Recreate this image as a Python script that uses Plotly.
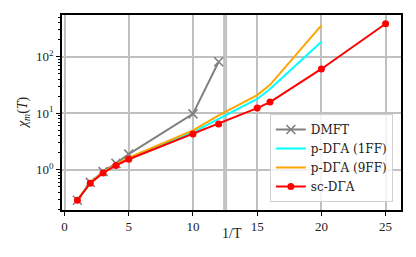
import plotly.graph_objects as go

# data
inv_T = [1, 2, 3, 4, 5, 10, 12, 15, 16, 20]
inv_T_sc = [1, 2, 3, 4, 5, 10, 12, 15, 16, 20, 25]
inv_T_dmft = [1, 2, 3, 4, 5, 10, 12]

chi_dmft = [0.29, 0.60, 0.93, 1.30, 1.90, 9.8, 82]
chi_1ff = [0.29, 0.59, 0.89, 1.22, 1.60, 4.6, 8.0, 18, 27, 185]
chi_9ff = [0.29, 0.60, 0.90, 1.25, 1.65, 5.0, 9.2, 21, 32, 360]
chi_sc = [0.29, 0.58, 0.88, 1.20, 1.54, 4.3, 6.5, 12.4, 15.8, 61, 385]

cutoff = 12.5
x_ticks = [0, 5, 10, 15, 20, 25]
y_ticks = [1, 10, 100]
y_ticktext = ["10<sup>0</sup>", "10<sup>1</sup>", "10<sup>2</sup>"]

FONT = "Liberation Serif"
LEG_FONT = "DejaVu Serif"

fig = go.Figure()
fig.add_vline(x=cutoff, line=dict(color="rgba(170,170,170,0.7)", width=4), layer="below")

fig.add_trace(go.Scatter(x=inv_T_dmft, y=chi_dmft, name="DMFT", mode="lines+markers",
                         line=dict(color="#808080", width=2),
                         marker=dict(symbol="x-thin", size=9, line=dict(color="#808080", width=1.6))))
fig.add_trace(go.Scatter(x=inv_T, y=chi_1ff, name="p-DΓA (1FF)", mode="lines",
                         line=dict(color="#00ffff", width=2)))
fig.add_trace(go.Scatter(x=inv_T, y=chi_9ff, name="p-DΓA (9FF)", mode="lines",
                         line=dict(color="#ffa500", width=2)))
fig.add_trace(go.Scatter(x=inv_T_sc, y=chi_sc, name="sc-DΓA", mode="lines+markers",
                         line=dict(color="#ff0000", width=2),
                         marker=dict(symbol="circle", size=7, color="#ff0000")))

fig.update_layout(
    width=408, height=249,
    margin=dict(l=54, r=15, t=7, b=47, autoexpand=False),
    paper_bgcolor="white", plot_bgcolor="white",
    font=dict(family=FONT, size=13, color="#222"),
    showlegend=True,
    legend=dict(x=0.976, y=0.041, xanchor="right", yanchor="bottom",
                bgcolor="rgba(255,255,255,0.8)", bordercolor="#d0d0d0", borderwidth=1,
                font=dict(family=LEG_FONT, size=12), tracegroupgap=0, itemwidth=30),
    xaxis=dict(range=[-0.2, 26.2], tickvals=x_ticks, ticks="outside", ticklen=4,
               tickcolor="black", showgrid=True, gridcolor="#c0c0c0", gridwidth=1.5,
               showline=True, linecolor="black", linewidth=1.5, mirror=True,
               zeroline=False, automargin=False, tickfont=dict(family=FONT, size=13)),
    yaxis=dict(type="log", range=[-0.71, 2.74], tickvals=y_ticks, ticktext=y_ticktext,
               ticks="outside", ticklen=4, tickcolor="black",
               minor=dict(ticks="outside", ticklen=2, dtick="D1", tickcolor="black", showgrid=False),
               showgrid=True, gridcolor="#c0c0c0", gridwidth=1.5,
               showline=True, linecolor="black", linewidth=1.5, mirror=True,
               zeroline=False, automargin=False, tickfont=dict(family=FONT, size=13)),
)

fig.add_annotation(text="1/T", xref="paper", yref="paper", x=0.5, y=-0.123,
                   xanchor="center", yanchor="middle", showarrow=False,
                   font=dict(family=FONT, size=14))
fig.add_annotation(text="<i>χ<sub>m</sub></i>(<i>T</i>)", xref="paper", yref="paper",
                   x=-0.115, y=0.497, textangle=-90, xanchor="center", yanchor="middle",
                   showarrow=False, font=dict(family=FONT, size=14))

fig.write_html("out.html")
